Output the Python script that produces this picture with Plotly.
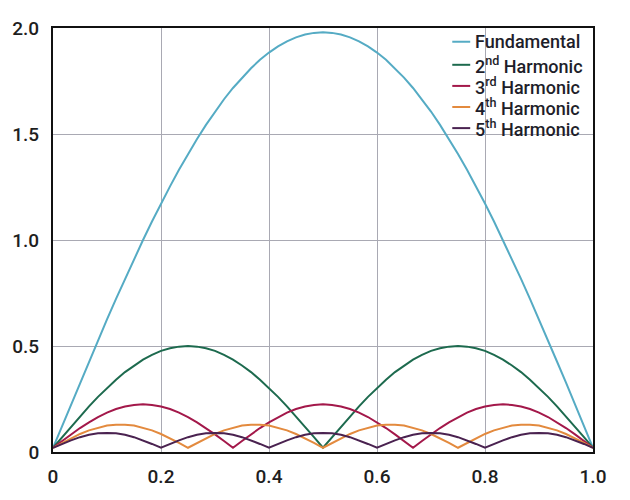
import plotly.graph_objects as go

# x grid (step 1/60)
x = [0.0, 0.0167, 0.0333, 0.05, 0.0667, 0.0833, 0.1, 0.1167, 0.1333, 0.15,
     0.1667, 0.1833, 0.2, 0.2167, 0.2333, 0.25, 0.2667, 0.2833, 0.3, 0.3167,
     0.3333, 0.35, 0.3667, 0.3833, 0.4, 0.4167, 0.4333, 0.45, 0.4667, 0.4833,
     0.5, 0.5167, 0.5333, 0.55, 0.5667, 0.5833, 0.6, 0.6167, 0.6333, 0.65,
     0.6667, 0.6833, 0.7, 0.7167, 0.7333, 0.75, 0.7667, 0.7833, 0.8, 0.8167,
     0.8333, 0.85, 0.8667, 0.8833, 0.9, 0.9167, 0.9333, 0.95, 0.9667, 0.9833, 1.0]

fundamental = [0.02, 0.122, 0.225, 0.327, 0.427, 0.527, 0.626, 0.722, 0.817, 0.910,
               1.000, 1.087, 1.172, 1.253, 1.331, 1.406, 1.476, 1.543, 1.606, 1.664,
               1.717, 1.766, 1.810, 1.850, 1.884, 1.913, 1.937, 1.956, 1.969, 1.977,
               1.980, 1.977, 1.969, 1.956, 1.937, 1.913, 1.884, 1.850, 1.810, 1.766,
               1.717, 1.664, 1.606, 1.543, 1.476, 1.406, 1.331, 1.253, 1.172, 1.087,
               1.000, 0.910, 0.817, 0.722, 0.626, 0.527, 0.427, 0.327, 0.225, 0.122, 0.02]

harm2 = [0.02, 0.070, 0.120, 0.168, 0.215, 0.260, 0.302, 0.341, 0.377, 0.408,
         0.436, 0.458, 0.477, 0.489, 0.497, 0.500, 0.497, 0.489, 0.477, 0.458,
         0.436, 0.408, 0.377, 0.341, 0.302, 0.260, 0.215, 0.168, 0.120, 0.070,
         0.02, 0.070, 0.120, 0.168, 0.215, 0.260, 0.302, 0.341, 0.377, 0.408,
         0.436, 0.458, 0.477, 0.489, 0.497, 0.500, 0.497, 0.489, 0.477, 0.458,
         0.436, 0.408, 0.377, 0.341, 0.302, 0.260, 0.215, 0.168, 0.120, 0.070, 0.02]

harm3 = [0.02, 0.052, 0.083, 0.113, 0.140, 0.165, 0.186, 0.203, 0.215, 0.222,
         0.225, 0.222, 0.215, 0.203, 0.186, 0.165, 0.140, 0.113, 0.083, 0.052,
         0.02, 0.052, 0.083, 0.113, 0.140, 0.165, 0.186, 0.203, 0.215, 0.222,
         0.225, 0.222, 0.215, 0.203, 0.186, 0.165, 0.140, 0.113, 0.083, 0.052,
         0.02, 0.052, 0.083, 0.113, 0.140, 0.165, 0.186, 0.203, 0.215, 0.222,
         0.225, 0.222, 0.215, 0.203, 0.186, 0.165, 0.140, 0.113, 0.083, 0.052, 0.02]

harm4 = [0.02, 0.043, 0.065, 0.085, 0.102, 0.115, 0.125, 0.129, 0.129, 0.125,
         0.115, 0.102, 0.085, 0.065, 0.043, 0.02, 0.043, 0.065, 0.085, 0.102,
         0.115, 0.125, 0.129, 0.129, 0.125, 0.115, 0.102, 0.085, 0.065, 0.043,
         0.02, 0.043, 0.065, 0.085, 0.102, 0.115, 0.125, 0.129, 0.129, 0.125,
         0.115, 0.102, 0.085, 0.065, 0.043, 0.02, 0.043, 0.065, 0.085, 0.102,
         0.115, 0.125, 0.129, 0.129, 0.125, 0.115, 0.102, 0.085, 0.065, 0.043, 0.02]

harm5 = [0.02, 0.038, 0.055, 0.070, 0.081, 0.088, 0.090, 0.088, 0.081, 0.070,
         0.055, 0.038, 0.02, 0.038, 0.055, 0.070, 0.081, 0.088, 0.090, 0.088,
         0.081, 0.070, 0.055, 0.038, 0.02, 0.038, 0.055, 0.070, 0.081, 0.088,
         0.090, 0.088, 0.081, 0.070, 0.055, 0.038, 0.02, 0.038, 0.055, 0.070,
         0.081, 0.088, 0.090, 0.088, 0.081, 0.070, 0.055, 0.038, 0.02, 0.038,
         0.055, 0.070, 0.081, 0.088, 0.090, 0.088, 0.081, 0.070, 0.055, 0.038, 0.02]

names = ["Fundamental", "2<sup>nd</sup> Harmonic", "3<sup>rd</sup> Harmonic",
         "4<sup>th</sup> Harmonic", "5<sup>th</sup> Harmonic"]
series = [fundamental, harm2, harm3, harm4, harm5]
colors = ["#55abc4", "#1d6a4e", "#a3184a", "#e38a3e", "#4a2250"]

x_tickvals = [0, 0.2, 0.4, 0.6, 0.8, 1.0]
x_ticktext = ["0", "0.2", "0.4", "0.6", "0.8", "1.0"]
y_tickvals = [0, 0.5, 1.0, 1.5, 2.0]
y_ticktext = ["0", "0.5", "1.0", "1.5", "2.0"]

FONT = "Roboto, Liberation Sans, Arial, sans-serif"
W = 500

fig = go.Figure()
for name, ys, c in zip(names, series, colors):
    fig.add_trace(go.Scatter(x=x, y=ys, mode="lines", name=name,
                             line=dict(color=c, width=2), showlegend=False))

# hand-placed legend (compact rows like the reference)
leg_y = [0.9676, 0.9132, 0.8634, 0.8137, 0.7639]
for name, c, ly in zip(names, colors, leg_y):
    fig.add_shape(type="line", xref="paper", yref="paper",
                  x0=0.7394, x1=0.7726, y0=ly, y1=ly,
                  line=dict(color=c, width=2))
    fig.add_annotation(xref="paper", yref="paper", x=0.778, y=ly,
                       xanchor="left", yanchor="middle", showarrow=False,
                       text=name, font=dict(family=FONT, size=18, color="#1e1e2a",
                                            weight=W))

fig.update_layout(
    width=630, height=500,
    margin=dict(l=52, r=37, t=28, b=40),
    paper_bgcolor="white", plot_bgcolor="white",
    font=dict(family=FONT, size=18, color="#1e1e1e", weight=W),
    showlegend=False,
)
fig.update_xaxes(range=[0, 1], tickvals=x_tickvals, ticktext=x_ticktext,
                 showgrid=True, gridcolor="#a9a9b3", gridwidth=1,
                 showline=True, linecolor="#111", linewidth=2, mirror=True,
                 zeroline=False, ticks="", ticklabelstandoff=6,
                 tickfont=dict(family=FONT, size=19, color="#1e1e1e", weight=W))
fig.update_yaxes(range=[0, 2], tickvals=y_tickvals, ticktext=y_ticktext,
                 showgrid=True, gridcolor="#a9a9b3", gridwidth=1,
                 showline=True, linecolor="#111", linewidth=2, mirror=True,
                 zeroline=False, ticks="", ticklabelstandoff=8,
                 tickfont=dict(family=FONT, size=19, color="#1e1e1e", weight=W))

fig.write_html("out.html")
